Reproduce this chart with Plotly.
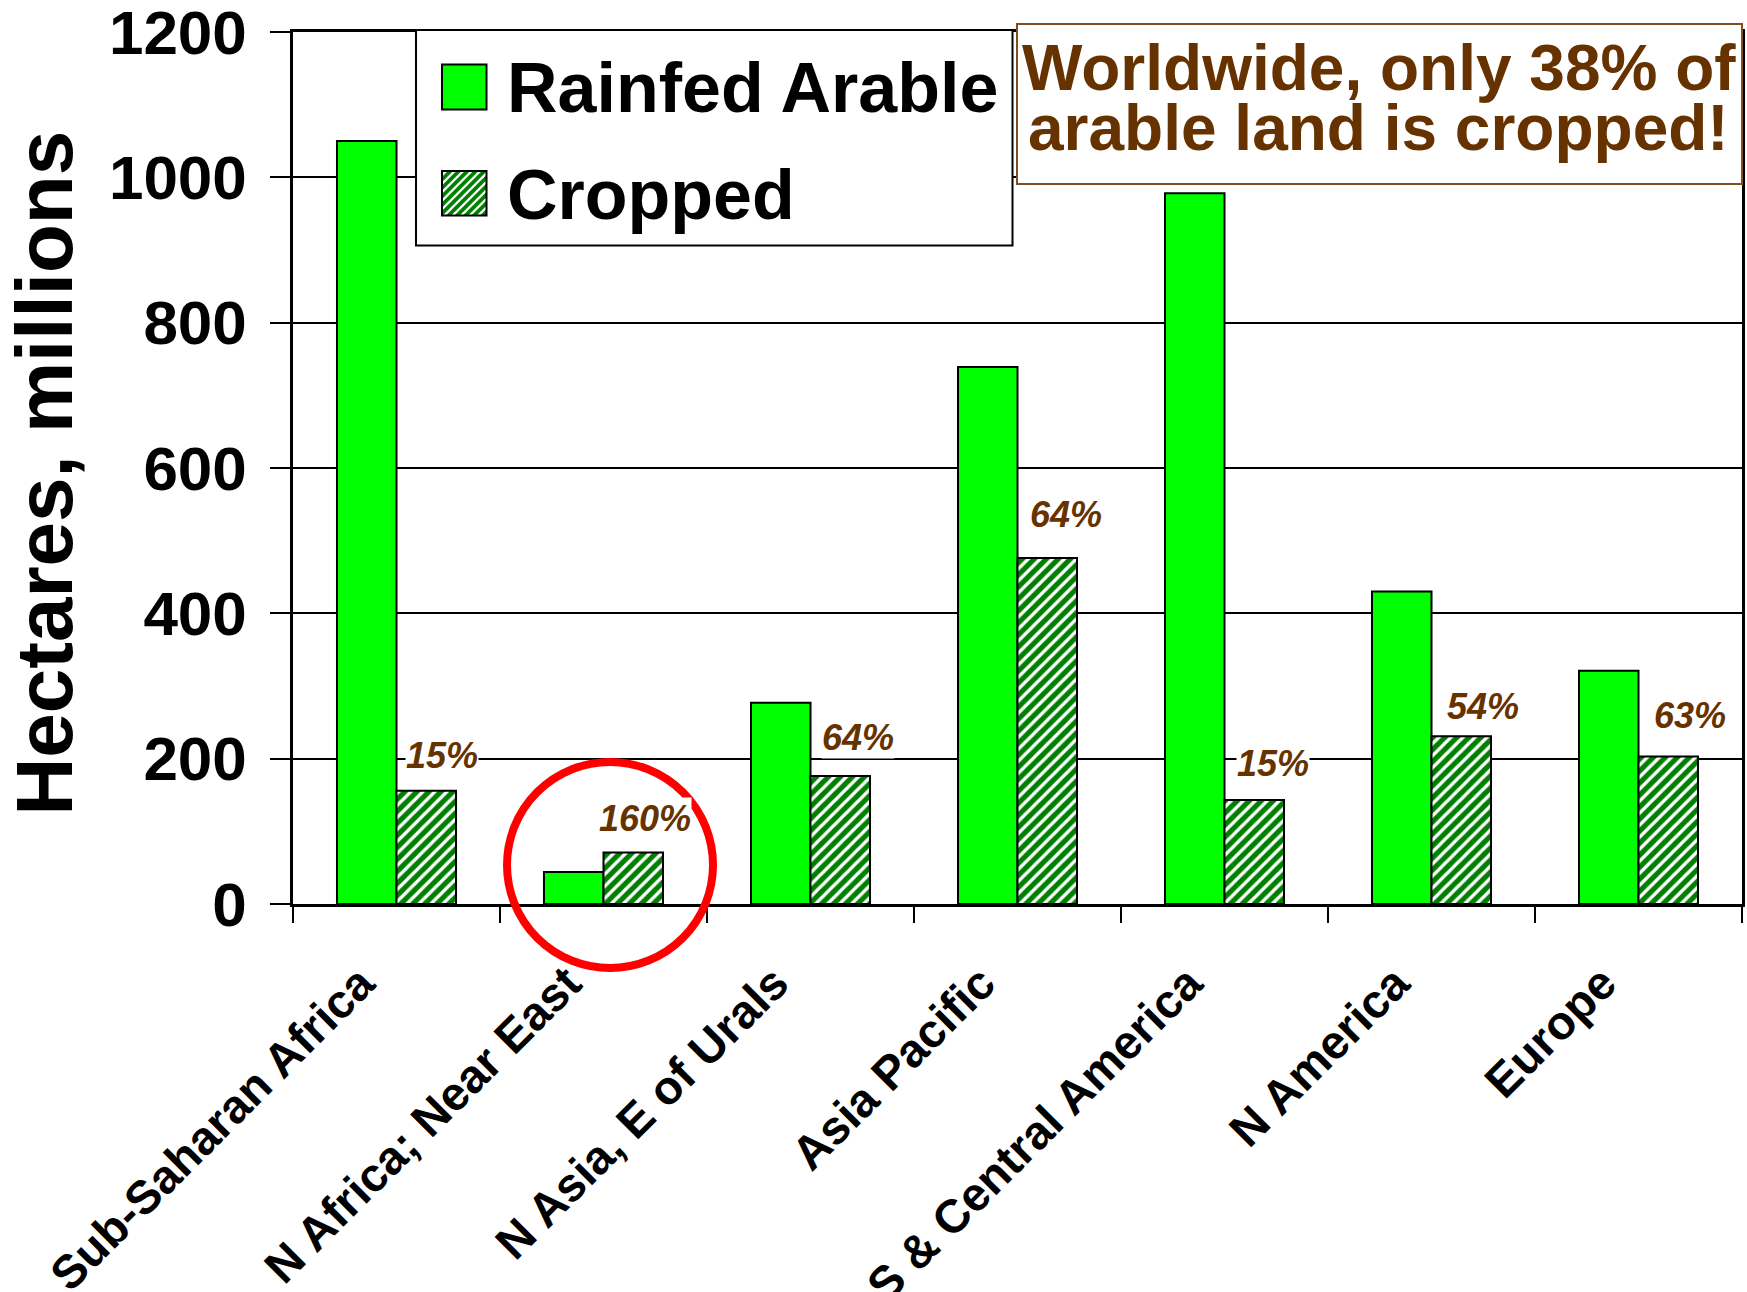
import math
import plotly.graph_objects as go

# ---- data -------------------------------------------------------------
regions = [
    "Sub-Saharan Africa",
    "N Africa; Near East",
    "N Asia, E of Urals",
    "Asia Pacific",
    "S & Central America",
    "N America",
    "Europe",
]
rainfed_arable = [1050, 44, 277, 739, 978, 430, 321]   # million ha
cropped = [156, 71, 176, 476, 143, 231, 203]           # million ha
cropped_share = ["15%", "160%", "64%", "64%", "15%", "54%", "63%"]
y_ticks = [0, 200, 400, 600, 800, 1000, 1200]

# ---- page geometry (pixels) ---------------------------------------------
W, H = 1747, 1292
PL, PR, PT, PB = 293, 1742, 32, 904   # plot area edges


def px(x):
    return (x - PL) / (PR - PL)


def py(y):
    return (PB - y) / (PB - PT)


FONT = "Liberation Sans, Arial, sans-serif"
BROWN = "#663300"
LIME = "#00FF00"
DARK_GREEN = "#008000"
HATCH_PERIOD = 8.5        # horizontal stripe period, px
HATCH_SOLIDITY = 0.4
BARGAP = 0.425

fig = go.Figure()
fig.add_trace(go.Bar(
    name="Rainfed Arable", x=regions, y=rainfed_arable,
    marker=dict(color=LIME, line=dict(color="black", width=2)),
))
fig.add_trace(go.Bar(
    name="Cropped", x=regions, y=cropped,
    marker=dict(color=DARK_GREEN, line=dict(color="black", width=2),
                pattern=dict(shape="/", fgcolor="white", bgcolor=DARK_GREEN,
                             size=HATCH_PERIOD, solidity=HATCH_SOLIDITY,
                             fillmode="replace")),
))

# ---- percent labels above the cropped bars ------------------------------
cat_w = (PR - PL) / len(regions)
bar_half_offset = (1 - BARGAP) * cat_w / 4
label_dx = [16, 12, 18, 19, 19, 22, 22]
label_lift = [35, 34, 39, 44, 37, 30, 41]
annotations = []
for reg, val, txt, dx, lift in zip(regions, cropped, cropped_share, label_dx, label_lift):
    annotations.append(dict(
        x=reg, y=val, xref="x", yref="y", text=txt, showarrow=False,
        xanchor="center", yanchor="middle",
        xshift=bar_half_offset + dx, yshift=lift,
        bgcolor="white", borderpad=0,
        font=dict(family=FONT, size=36, color=BROWN, weight="bold", style="italic"),
    ))

# y axis title
annotations.append(dict(
    x=px(44), y=py(473.5), xref="paper", yref="paper",
    text="Hectares, millions", textangle=-90, showarrow=False,
    xanchor="center", yanchor="middle",
    font=dict(family=FONT, size=80, color="black", weight="bold"),
))

# ---- legend (drawn by hand for large swatches) ----------------------------
shapes = []
shapes.append(dict(type="rect", xref="paper", yref="paper", layer="above",
                   x0=px(416), x1=px(1012.5), y0=py(245.5), y1=py(30),
                   line=dict(color="black", width=2), fillcolor="white"))

SW_X0, SW_X1 = 442, 486.5
shapes.append(dict(type="rect", xref="paper", yref="paper", layer="above",
                   x0=px(SW_X0), x1=px(SW_X1), y0=py(109.5), y1=py(64.5),
                   line=dict(color="black", width=2), fillcolor=LIME))

# hatched swatch: green square with white diagonal stripes
hy0, hy1 = 171, 215.5
shapes.append(dict(type="rect", xref="paper", yref="paper", layer="above",
                   x0=px(SW_X0), x1=px(SW_X1), y0=py(hy1), y1=py(hy0),
                   line=dict(width=0), fillcolor=DARK_GREEN))
side = SW_X1 - SW_X0
segs = []
c = SW_X0 + hy0 + HATCH_PERIOD / 2
while c < SW_X0 + hy0 + 2 * side:
    xa = max(SW_X0, c - hy1)
    xb = min(SW_X1, c - hy0)
    if xb > xa:
        segs.append(f"M{px(xa):.6f},{py(c - xa):.6f}L{px(xb):.6f},{py(c - xb):.6f}")
    c += HATCH_PERIOD
shapes.append(dict(type="path", xref="paper", yref="paper", layer="above",
                   path="".join(segs),
                   line=dict(color="white",
                             width=HATCH_SOLIDITY * HATCH_PERIOD / math.sqrt(2))))
shapes.append(dict(type="rect", xref="paper", yref="paper", layer="above",
                   x0=px(SW_X0), x1=px(SW_X1), y0=py(hy1), y1=py(hy0),
                   line=dict(color="black", width=2), fillcolor="rgba(0,0,0,0)"))

LEG_F = 70
for name, baseline in (("Rainfed Arable", 112), ("Cropped", 219)):
    annotations.append(dict(
        x=px(505), y=py(baseline - 0.3465 * LEG_F), xref="paper", yref="paper",
        text=name, showarrow=False, xanchor="left", yanchor="middle",
        font=dict(family=FONT, size=LEG_F, color="black", weight="bold"),
    ))

# ---- call-out box ----------------------------------------------------------
shapes.append(dict(type="rect", xref="paper", yref="paper", layer="above",
                   x0=px(1017), x1=px(1742), y0=py(184), y1=py(24),
                   line=dict(color="#7F4F1F", width=2), fillcolor="white"))
BOX_F = 64
for line_text, baseline in (("Worldwide, only 38% of", 90), ("arable land is cropped!", 150)):
    annotations.append(dict(
        x=px(1378.5), y=py(baseline - 0.3465 * BOX_F), xref="paper", yref="paper",
        text=line_text, showarrow=False, xanchor="center", yanchor="middle",
        font=dict(family=FONT, size=BOX_F, color=BROWN, weight="bold"),
    ))

# ---- red ring around the N Africa pair -----------------------------------
cx, cy, r = 610, 865, 103
shapes.append(dict(type="circle", xref="paper", yref="paper", layer="above",
                   x0=px(cx - r), x1=px(cx + r), y0=py(cy + r), y1=py(cy - r),
                   line=dict(color="#FF0000", width=8)))

fig.update_layout(
    width=W, height=H,
    margin=dict(l=PL, r=W - PR, t=PT, b=H - PB, pad=0),
    paper_bgcolor="white", plot_bgcolor="white",
    barmode="group", bargap=BARGAP, bargroupgap=0,
    showlegend=False,
    font=dict(family=FONT, color="black"),
    annotations=annotations, shapes=shapes,
)
fig.update_xaxes(
    type="category", tickson="boundaries", ticks="outside", ticklen=16,
    tickwidth=2, tickcolor="black", showline=True, linecolor="black",
    linewidth=2.5, mirror=True, showgrid=False, tickangle=-45,
    ticklabelshift=-36, ticklabelstandoff=30,
    tickfont=dict(family=FONT, size=47, color="black", weight="bold"),
    automargin=False,
)
fig.update_yaxes(
    range=[0, 1200], tickvals=y_ticks, ticks="outside", ticklen=20,
    tickwidth=2, tickcolor="black", showline=True, linecolor="black",
    linewidth=2.5, mirror=True, showgrid=True, gridcolor="black",
    gridwidth=2, zeroline=False, ticklabelstandoff=11,
    ticklabeloverflow="allow",
    tickfont=dict(family=FONT, size=62, color="black", weight="bold"),
    automargin=False,
)

fig.write_html("out.html")
